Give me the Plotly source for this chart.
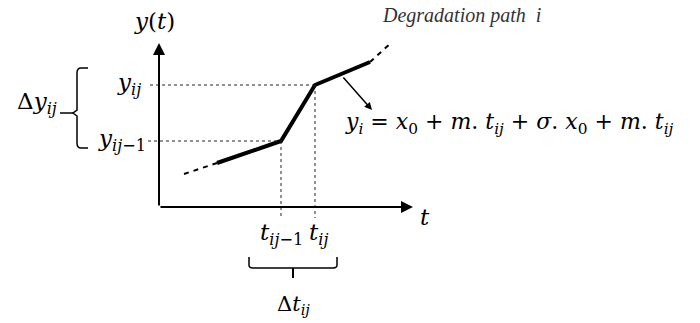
import plotly.graph_objects as go

# degradation path vertices (t, y), origin of the axes at (0, 0)
path_t = [25, 58, 122, 156, 211, 233]
path_y = [33, 44, 66, 122, 145, 165]

# axis extents
t_axis_end = 254
y_axis_end = 164

# index of the two observation points j-1 and j
j_prev, j_cur = 2, 3

MATH = "DejaVu Serif"

fig = go.Figure()

# dashed continuation of the path before and after the observed piece
for a, b in [(0, 1), (4, 5)]:
    fig.add_trace(go.Scatter(
        x=path_t[a:b + 1], y=path_y[a:b + 1], mode="lines",
        line=dict(color="black", width=2, dash="5px,5px"),
        hoverinfo="skip", showlegend=False,
    ))

# solid observed piece
fig.add_trace(go.Scatter(
    x=path_t[1:5], y=path_y[1:5], mode="lines",
    line=dict(color="black", width=4),
    hoverinfo="skip", showlegend=False,
))

# dotted guide lines to the axes
tp, tc = path_t[j_prev], path_t[j_cur]
yp, yc = path_y[j_prev], path_y[j_cur]
guides = [
    ([-9, tc], [yc, yc]),
    ([-11, tp], [yp, yp]),
    ([tp, tp], [yp, -11]),
    ([tc, tc], [yc, -11]),
]
for gx, gy in guides:
    fig.add_trace(go.Scatter(
        x=gx, y=gy, mode="lines",
        line=dict(color="#222", width=1, dash="dot"),
        hoverinfo="skip", showlegend=False,
    ))

# axes with arrows
for x, y in [(t_axis_end, 0), (0, y_axis_end)]:
    fig.add_annotation(
        x=x, y=y, ax=0, ay=0, axref="x", ayref="y", xref="x", yref="y",
        showarrow=True, arrowhead=2, arrowsize=1.2, arrowwidth=2,
        arrowcolor="black", text="",
    )

# arrow from the path to the equation
fig.add_annotation(
    x=213, y=97, ax=183, ay=131, axref="x", ayref="y", xref="x", yref="y",
    showarrow=True, arrowhead=2, arrowsize=1, arrowwidth=1.5,
    arrowcolor="black", text="",
)

# braces
fig.add_shape(
    type="path", xref="x", yref="y",
    path=f"M -71,{yc + 17} L -78,{yc + 17} Q -82,{yc + 17} -82,{yc + 12} "
         f"L -82,{(yc + yp) / 2 + 3} L -86,{(yc + yp) / 2} L -82,{(yc + yp) / 2 - 3} "
         f"L -82,{yp - 2} Q -82,{yp - 7} -78,{yp - 7} L -71,{yp - 7}",
    line=dict(color="black", width=1.5),
)
fig.add_shape(
    type="line", xref="x", yref="y",
    x0=-99, x1=-86, y0=(yc + yp) / 2, y1=(yc + yp) / 2,
    line=dict(color="black", width=1.5),
)
fig.add_shape(
    type="path", xref="x", yref="y",
    path=f"M {tp - 32},-50 L {tp - 32},-58 Q {tp - 32},-61 {tp - 28},-61 "
         f"L {tc + 18},-61 Q {tc + 22},-61 {tc + 22},-58 L {tc + 22},-50",
    line=dict(color="black", width=1.5),
)
fig.add_shape(
    type="line", xref="x", yref="y",
    x0=(tp + tc) / 2 - 5, x1=(tp + tc) / 2 - 5, y0=-61, y1=-71,
    line=dict(color="black", width=2),
)

labels = [
    (-5, 186, "<i>y</i>(<i>t</i>)", "center", 23),
    (266, -10, "<i>t</i>", "center", 23),
    (-16, yc + 1, "<i>y</i><sub><i>ij</i></sub>", "right", 23),
    (-11, yp + 1, "<i>y</i><sub><i>ij</i>−1</sub>", "right", 23),
    (-122, 104, "Δ<i>y</i><sub><i>ij</i></sub>", "center", 23),
    (tp, -27, "<i>t</i><sub><i>ij</i>−1</sub>", "center", 23),
    (tc + 3, -27, "<i>t</i><sub><i>ij</i></sub>", "center", 23),
    (134, -98, "Δ<i>t</i><sub><i>ij</i></sub>", "center", 21),
    (184, 84,
     "<i>y</i><sub><i>i</i></sub> = <i>x</i><sub>0</sub> + <i>m</i>. <i>t</i><sub><i>ij</i></sub>"
     " + <i>σ</i>. <i>x</i><sub>0</sub> + <i>m</i>. <i>t</i><sub><i>ij</i></sub>", "left", 22),
]
for x, y, text, anchor, size in labels:
    fig.add_annotation(
        x=x, y=y, xref="x", yref="y", text=text, showarrow=False,
        xanchor=anchor, yanchor="middle",
        font=dict(family=MATH, size=size, color="black"),
    )

fig.add_annotation(
    x=302, y=192, xref="x", yref="y", text="<i>Degradation path  i</i>",
    showarrow=False, font=dict(family="Liberation Serif", size=20, color="#333"),
)

fig.update_xaxes(range=[-159, 541], visible=False, fixedrange=True)
fig.update_yaxes(range=[-116, 207], visible=False, fixedrange=True)
fig.update_layout(
    width=700, height=323,
    margin=dict(l=0, r=0, t=0, b=0),
    plot_bgcolor="white", paper_bgcolor="white",
)

fig.write_html(
    "out.html",
    config={"displayModeBar": False},
    post_script="document.body.style.margin='0';",
)
